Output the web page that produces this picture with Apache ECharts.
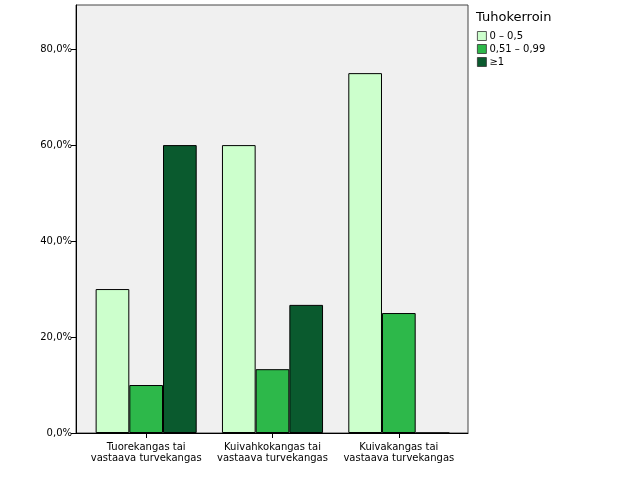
<!DOCTYPE html>
<html><head><meta charset="utf-8">
<script src="https://cdn.jsdelivr.net/npm/echarts@6/dist/echarts.min.js"></script>
<style>html,body{margin:0;padding:0;background:#fff;}#c{width:626px;height:501px;}</style>
</head><body><div id="c"></div>
<script>
const categories = ['Tuorekangas tai\nvastaava turvekangas', 'Kuivahkokangas tai\nvastaava turvekangas', 'Kuivakangas tai\nvastaava turvekangas'];
const seriesNames = ['0 – 0,5', '0,51 – 0,99', '≥1'];
const s1 = [30.0, 60.0, 75.0];
const s2 = [10.0, 13.3, 25.0];
const s3 = [60.0, 26.7, 0.0];
const yTicks = [0, 20, 40, 60, 80];
const colors = ['#ccffcc', '#2db84a', '#0a5a2e'];
const chart = echarts.init(document.getElementById('c'));
const font = 'DejaVu Sans';
const yMax = 89.2;
chart.setOption({
  animation: false,
  textStyle: {fontFamily: font},
  grid: [
    {left: 76, right: 158, top: 5, bottom: 68, show: true, backgroundColor: '#f0f0f0', borderColor: '#444', borderWidth: 1},
    {left: 83, right: 164, top: 5, bottom: 68}
  ],
  graphic: [{type: 'text', left: 476, top: 11, style: {text: 'Tuhokerroin', font: '13px DejaVu Sans', fill: '#000'}}],
  legend: {
    orient: 'vertical', left: 472, top: 26, itemWidth: 9, itemHeight: 9, itemGap: 3,
    icon: 'rect', itemStyle: {borderColor: '#333', borderWidth: 0.8},
    textStyle: {fontSize: 10, fontFamily: font, color: '#000', padding: [0,0,0,-2]},
    data: seriesNames
  },
  xAxis: [
    {gridIndex: 0, type: 'value', min: 0, max: 1, show: true,
      axisLine: {show: true, lineStyle: {color: '#000'}}, axisTick: {show: false}, axisLabel: {show: false}, splitLine: {show: false}},
    {gridIndex: 1, type: 'category', data: categories,
      axisLine: {show: false},
      axisTick: {show: true, alignWithLabel: true, length: 5, lineStyle: {color: '#000'}},
      axisLabel: {interval: 0, fontSize: 10, color: '#000', fontFamily: font, lineHeight: 11, margin: 9}}
  ],
  yAxis: [
    {gridIndex: 0, type: 'value', min: 0, max: yMax,
      splitLine: {show: false},
      axisLine: {show: true, lineStyle: {color: '#000'}},
      axisTick: {show: true, length: 5, customValues: yTicks, lineStyle: {color: '#000'}},
      axisLabel: {fontSize: 10, color: '#000', fontFamily: font, margin: 4, customValues: yTicks,
        formatter: v => v.toFixed(1).replace('.', ',') + '%'}},
    {gridIndex: 1, type: 'value', min: 0, max: yMax, show: false, splitLine: {show: false}}
  ],
  series: [s1, s2, s3].map((d, i) => ({
    name: seriesNames[i], type: 'bar', data: d, xAxisIndex: 1, yAxisIndex: 1,
    barGap: '0%', barCategoryGap: '20%',
    itemStyle: {color: colors[i], borderColor: '#000', borderWidth: 1}
  }))
});
</script></body></html>
